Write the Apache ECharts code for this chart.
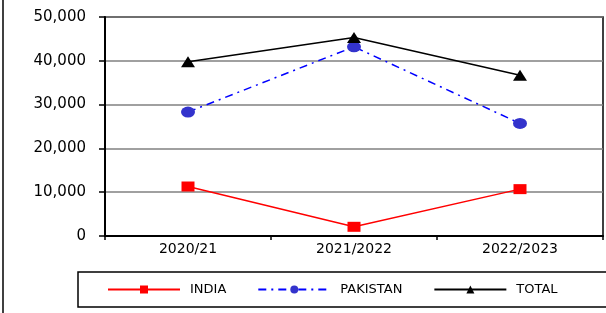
<!DOCTYPE html>
<html>
<head>
<meta charset="utf-8"/>
<title>India / Pakistan</title>
<script src="https://cdn.jsdelivr.net/npm/echarts@6/dist/echarts.min.js"></script>
<style>
html,body{margin:0;padding:0;background:#fff;}
#main{width:606px;height:313px;}
</style>
</head>
<body>
<div id="main"></div>
<script>
var seasons = ['2020/21', '2021/2022', '2022/2023'];
var india = [11300, 2100, 10700];
var pakistan = [28300, 43200, 25700];
var total = [39800, 45300, 36700];
var yTicks = {min: 0, max: 50000, step: 10000};

// wide face, the original is stretched sideways
var fnt = '"DejaVu Sans", sans-serif';

function fmt(v){
    return String(v).replace(/\B(?=(\d{3})+(?!\d))/g, ',');
}

var chart = echarts.init(document.getElementById('main'));

var option = {
    animation: false,
    backgroundColor: '#fff',
    grid: {
        left: 105, right: 3, top: 17, bottom: 77,
        show: true, borderColor: '#000', borderWidth: 1.5
    },
    legend: {
        // box runs off the right edge like the original
        left: 78, top: 272, width: 470,
        padding: [11, 70, 11, 29],
        borderColor: '#000', borderWidth: 1.5,
        itemWidth: 72, itemHeight: 10, itemGap: 31,
        textStyle: {fontFamily: fnt, fontSize: 13, color: '#000', padding: [0, 0, 0, 5]},
        data: ['INDIA', 'PAKISTAN', 'TOTAL']
    },
    xAxis: {
        type: 'category',
        data: seasons,
        axisLine: {lineStyle: {color: '#000', width: 2}},
        axisTick: {show: true, length: 4, lineStyle: {color: '#000', width: 1.5}},
        axisLabel: {fontFamily: fnt, fontSize: 14, color: '#000', margin: 6}
    },
    yAxis: {
        type: 'value',
        min: yTicks.min, max: yTicks.max, interval: yTicks.step,
        axisLine: {show: true, lineStyle: {color: '#000', width: 2}},
        axisTick: {show: true, length: 6, lineStyle: {color: '#000', width: 1.5}},
        axisLabel: {fontFamily: fnt, fontSize: 15, color: '#000', margin: 19, formatter: fmt},
        splitLine: {lineStyle: {color: '#808080', width: 1.5}}
    },
    graphic: [{
        type: 'line',
        shape: {x1: 3, y1: 0, x2: 3, y2: 313},
        style: {stroke: '#000', lineWidth: 1.5}
    }],
    series: [
        {
            name: 'INDIA', type: 'line', data: india,
            symbol: 'rect', symbolSize: [13, 10],
            lineStyle: {color: '#ff0000', width: 1.5},
            itemStyle: {color: '#ff0000'}
        },
        {
            name: 'PAKISTAN', type: 'line', data: pakistan,
            symbol: 'circle', symbolSize: [14, 11],
            lineStyle: {color: '#0000ff', width: 1.5, type: [8, 5, 2, 5]},
            itemStyle: {color: '#3333cc'}
        },
        {
            name: 'TOTAL', type: 'line', data: total,
            symbol: 'triangle', symbolSize: [14, 11],
            lineStyle: {color: '#000', width: 1.5},
            itemStyle: {color: '#000'}
        }
    ]
};

chart.setOption(option);
</script>
</body>
</html>
